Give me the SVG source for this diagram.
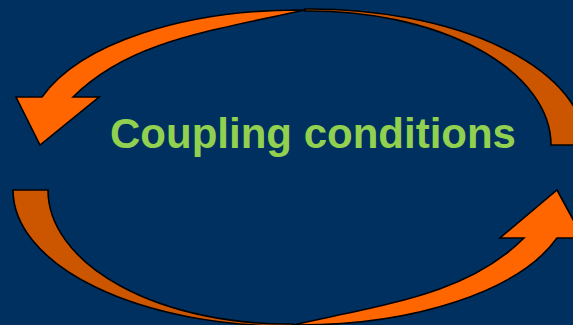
<svg xmlns="http://www.w3.org/2000/svg" width="573" height="325" viewBox="0 0 573 325">
  <style>
    .outline { stroke: #000000; stroke-width: 1.6; stroke-linejoin: miter; }
    .dark { fill: #CC5500; }
    .bright { fill: #FF6600; }
    .label { font-family: "Liberation Sans", Arial, sans-serif; font-weight: bold; font-size: 42px; fill: #92D050; }
  </style>
  <rect x="0" y="0" width="573" height="325" fill="#00305F"/>
  <g id="connectors">
    <g id="arrow-top">
      <path class="dark outline" d="M 305,9 A 275 136 0 0 1 585,145 L 551,145 A 241 134 0 0 0 305,11 Z"/>
      <path class="bright outline" d="M 42,97 L 16,97 L 40,145 L 99,97 L 73,97 C 128,42 205,32 305,10 C 183,9 80,44 42,97 Z"/>
    </g>
    <g id="arrow-bottom">
      <path class="dark outline" d="M 293,326 A 275 136 0 0 1 13,190 L 48,190 A 240 134 0 0 0 293,324 Z"/>
      <path class="bright outline" d="M 557,238 L 583,238 L 557,190 L 500,238 L 524,238 C 469,293 392,303 293,325 C 414,326 519,291 557,238 Z"/>
    </g>
  </g>
  <g id="node-label">
    <text class="label" x="313" y="148" text-anchor="middle">Coupling conditions</text>
  </g>
</svg>
